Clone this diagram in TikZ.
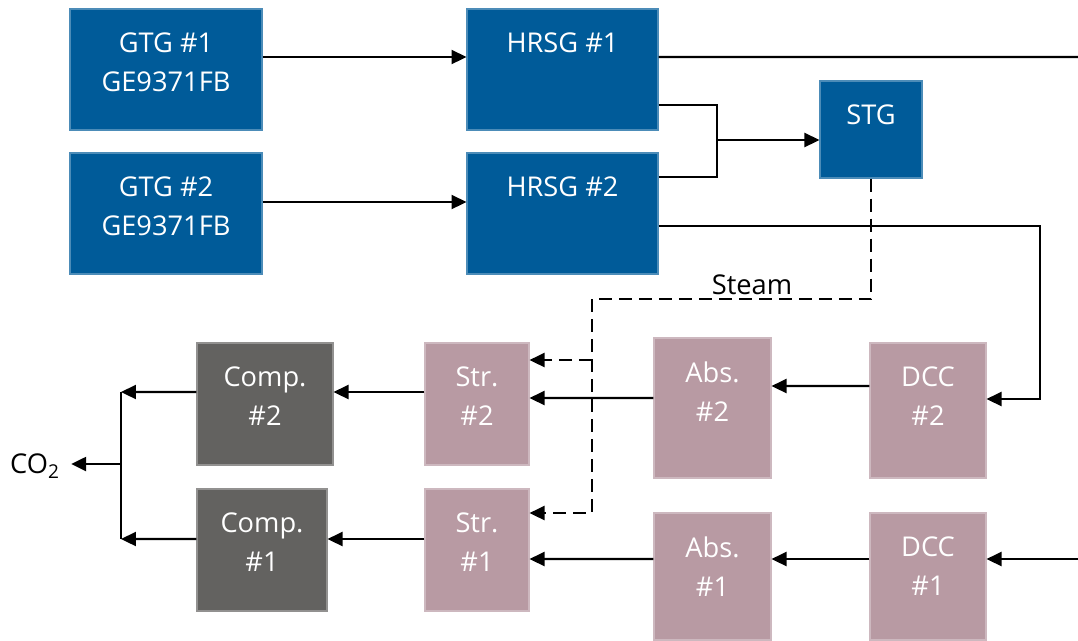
\documentclass[tikz,border=0pt]{standalone}
\usepackage{fontspec}
\setmainfont{Open Sans}
\usetikzlibrary{arrows.meta}
\definecolor{plantblue}{RGB}{0,91,153}
\definecolor{capmauve}{RGB}{184,154,163}
\definecolor{compgray}{RGB}{99,98,96}
\tikzset{
  unit/.style={rectangle, fill=#1, draw=#1!70!white, line width=0.6pt, inner sep=0pt},
  boxtext/.style={text=white, font=\fontsize{15.5}{22}\selectfont, align=center,
    inner sep=0pt, anchor=north, yshift=-0.48cm},
  flow/.style={line width=1.3pt, -{Triangle[length=0.3cm,width=0.28cm]}},
  pipe/.style={line width=1.3pt},
  steamline/.style={dash pattern=on 0.26cm off 0.14cm}
}
\begin{document}
\begin{tikzpicture}[x=0.02cm, y=-0.02cm]
\useasboundingbox (0,0) rectangle (1078,640);
% power block
\node (gtg1) [unit=plantblue, minimum width=3.84cm, minimum height=2.42cm,
  label={[boxtext]north:GTG \#1\\GE9371FB}] at (166,69.5) {};
\node (gtg2) [unit=plantblue, minimum width=3.84cm, minimum height=2.42cm,
  label={[boxtext]north:GTG \#2\\GE9371FB}] at (166,213.5) {};
\node (hrsg1) [unit=plantblue, minimum width=3.82cm, minimum height=2.42cm,
  label={[boxtext]north:HRSG \#1}] at (562.5,69.5) {};
\node (hrsg2) [unit=plantblue, minimum width=3.82cm, minimum height=2.42cm,
  label={[boxtext]north:HRSG \#2}] at (562.5,213.5) {};
\node (stg) [unit=plantblue, minimum width=2.04cm, minimum height=1.94cm,
  label={[boxtext]north:STG}] at (871,129.5) {};
% capture trains
\node (dcc2) [unit=capmauve, minimum width=2.32cm, minimum height=2.7cm,
  label={[boxtext]north:DCC\\\#2}] at (928,410.5) {};
\node (dcc1) [unit=capmauve, minimum width=2.32cm, minimum height=2.54cm,
  label={[boxtext]north:DCC\\\#1}] at (928,576.5) {};
\node (abs2) [unit=capmauve, minimum width=2.34cm, minimum height=2.8cm,
  label={[boxtext]north:Abs.\\\#2}] at (712.5,408) {};
\node (abs1) [unit=capmauve, minimum width=2.34cm, minimum height=2.54cm,
  label={[boxtext]north:Abs.\\\#1}] at (712.5,576.5) {};
\node (str2) [unit=capmauve, minimum width=2.08cm, minimum height=2.44cm,
  label={[boxtext]north:Str.\\\#2}] at (477,404) {};
\node (str1) [unit=capmauve, minimum width=2.08cm, minimum height=2.44cm,
  label={[boxtext]north:Str.\\\#1}] at (477,550) {};
\node (comp2) [unit=compgray, minimum width=2.72cm, minimum height=2.44cm,
  label={[boxtext]north:Comp.\\\#2}] at (265,404) {};
\node (comp1) [unit=compgray, minimum width=2.6cm, minimum height=2.44cm,
  label={[boxtext]north:Comp.\\\#1}] at (262,550) {};
\node (co2) [font=\fontsize{15.5}{18}\selectfont, inner sep=0pt, inner xsep=0.22cm] at (35,466) {CO\textsubscript{2}};
\node (steam) [font=\fontsize{15.5}{18}\selectfont, inner sep=0pt, anchor=base] at (752,294) {Steam};
% flue gas and power
\coordinate (stack) at (1078,57);
\coordinate (mix) at (717,140);
\coordinate (flue2) at (1040,399);
\coordinate (flue1) at (1078,559);
\draw[flow] ([yshift=0.25cm]gtg1.east) -- ([yshift=0.25cm]hrsg1.west);
\draw[flow] ([yshift=0.23cm]gtg2.east) -- ([yshift=0.23cm]hrsg2.west);
\draw[pipe] ([yshift=0.25cm]hrsg1.east) -- (stack);
\draw[pipe] ([yshift=-0.71cm]hrsg1.east) -| (mix);
\draw[pipe] ([yshift=0.73cm]hrsg2.east) -| (mix);
\draw[flow] (mix) -- (mix -| stg.west);
\draw[flow] ([yshift=-0.25cm]hrsg2.east) -| (flue2) -- (flue2 -| dcc2.east);
\draw[flow] (flue1) -- (flue1 -| dcc1.east);
% capture
\draw[flow] ([yshift=0.49cm]dcc2.west) -- ([yshift=0.44cm]abs2.east);
\draw[flow] ([yshift=0.35cm]dcc1.west) -- ([yshift=0.35cm]abs1.east);
\draw[flow] ([yshift=0.2cm]abs2.west) -- ([yshift=0.12cm]str2.east);
\draw[flow] ([yshift=0.35cm]abs1.west) -- ([yshift=-0.18cm]str1.east);
\draw[flow] ([yshift=0.24cm]str2.west) -- ([yshift=0.24cm]comp2.east);
\draw[flow] ([yshift=0.22cm]str1.west) -- ([yshift=0.22cm]comp1.east);
% CO2 product
\coordinate (bus2) at (121,392);
\coordinate (bus1) at (121,539);
\coordinate (bus) at (121,464);
\draw[flow] ([yshift=0.24cm]comp2.west) -- (bus2);
\draw[flow] ([yshift=0.22cm]comp1.west) -- (bus1);
\draw[pipe] (bus2) -- (bus1);
\draw[flow] (bus) -- (bus -| co2.east);
% steam extraction
\coordinate (stm) at (592,299);
\coordinate (s2in) at ([yshift=0.88cm]str2.east);
\draw[flow, steamline] (stg.south) |- (stm) |- ([yshift=0.74cm]str1.east);
\draw[flow, steamline] (s2in -| stm) -- (s2in);
\end{tikzpicture}
\end{document}
